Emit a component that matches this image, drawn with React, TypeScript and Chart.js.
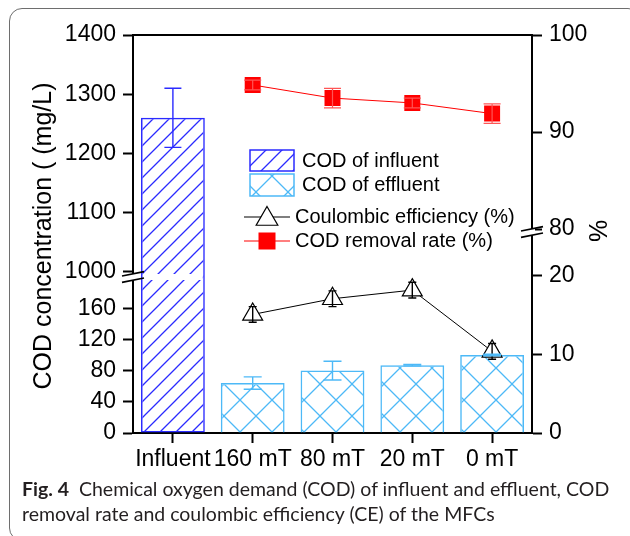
import React, { useEffect, useRef } from 'react';
import { Chart, registerables } from 'chart.js';

Chart.register(...registerables);

// ---------- data ----------
const categories = ['Influent', '160 mT', '80 mT', '20 mT', '0 mT'];
const influentCOD: (number | null)[] = [1260, null, null, null, null];
const influentErr: (number | null)[] = [50, null, null, null, null];
const effluentCOD: (number | null)[] = [null, 64, 80, 87, 100];
const effluentErr: (number | null)[] = [null, 8, 12, 1, 1];
const coulombicEff: (number | null)[] = [null, 15.1, 17.1, 18.2, 10.4];
const coulombicErr: (number | null)[] = [null, 1.0, 1.0, 1.0, 1.0];
const removalRate: (number | null)[] = [null, 94.85, 93.5, 93.0, 91.9];
const removalErr: (number | null)[] = [null, 0.5, 1.0, 0.5, 1.0];

const leftLowerRange = [0, 200];
const leftUpperRange = [991, 1400];
const rightLowerRange = [0, 25.6];
const rightUpperRange = [79.7, 100];
const leftLowerTicks = [0, 40, 80, 120, 160];
const leftUpperTicks = [1000, 1100, 1200, 1300, 1400];
const rightLowerTicks = [0, 10, 20];
const rightUpperTicks = [80, 90, 100];

const leftTitle = 'COD concentration ( (mg/L)';
const rightTitle = '%';
const legendLabels = ['COD of influent', 'COD of effluent', 'Coulombic efficiency (%)', 'COD removal rate (%)'];

// ---------- styles ----------
const FONT = "'Liberation Sans', Arial, sans-serif";
const BLUE = '#2b2bff';
const LIGHT = '#4db9f7';
const RED = '#ff0000';

function makePattern(color: string, cross: boolean, size: number, lw: number) {
  const c = document.createElement('canvas');
  c.width = size;
  c.height = size;
  const g = c.getContext('2d')!;
  g.strokeStyle = color;
  g.lineWidth = lw;
  g.beginPath();
  // "/" lines
  g.moveTo(0, size); g.lineTo(size, 0);
  g.moveTo(-2, 2); g.lineTo(2, -2);
  g.moveTo(size - 2, size + 2); g.lineTo(size + 2, size - 2);
  if (cross) {
    g.moveTo(0, 0); g.lineTo(size, size);
    g.moveTo(size - 2, -2); g.lineTo(size + 2, 2);
    g.moveTo(-2, size - 2); g.lineTo(2, size + 2);
  }
  g.stroke();
  return g.createPattern(c, 'repeat')!;
}

function clampLow(v: number | null, lo: number[]) {
  if (v == null) return null;
  return [lo[0], Math.min(v, lo[1])];
}
function clampHigh(v: number | null, hi: number[]) {
  if (v == null || v <= hi[0]) return null;
  return [hi[0], Math.min(v, hi[1])];
}

const errorBarPlugin = {
  id: 'errorBars',
  afterDatasetsDraw(chart: any) {
    const ctx = chart.ctx;
    chart.data.datasets.forEach((ds: any, di: number) => {
      const eb = ds.errorBars;
      if (!eb) return;
      const meta = chart.getDatasetMeta(di);
      const ys = chart.scales[meta.yAxisID];
      meta.data.forEach((el: any, i: number) => {
        const c = eb.center[i];
        const e = eb.err[i];
        if (c == null || e == null) return;
        if (c < ys.min || c > ys.max) return;
        const x = el.x;
        const yTop = ys.getPixelForValue(c + e);
        const yBot = ys.getPixelForValue(c - e);
        ctx.save();
        ctx.strokeStyle = eb.color;
        ctx.lineWidth = eb.width;
        ctx.beginPath();
        ctx.moveTo(x, yTop); ctx.lineTo(x, yBot);
        ctx.moveTo(x - eb.cap / 2, yTop); ctx.lineTo(x + eb.cap / 2, yTop);
        ctx.moveTo(x - eb.cap / 2, yBot); ctx.lineTo(x + eb.cap / 2, yBot);
        ctx.stroke();
        ctx.restore();
      });
    });
  },
};

function drawTriangle(ctx: CanvasRenderingContext2D, x: number, y: number, r: number) {
  ctx.beginPath();
  for (let k = 0; k < 3; k++) {
    const a = (k * 2 * Math.PI) / 3;
    const px = x + Math.sin(a) * r;
    const py = y - Math.cos(a) * r;
    if (k === 0) ctx.moveTo(px, py); else ctx.lineTo(px, py);
  }
  ctx.closePath();
}

const decorPlugin = {
  id: 'decor',
  afterDraw(chart: any) {
    const ctx: CanvasRenderingContext2D = chart.ctx;
    const ca = chart.chartArea;
    const s = chart.scales;
    ctx.save();
    // top frame line
    ctx.strokeStyle = '#000';
    ctx.lineWidth = 2;
    ctx.beginPath();
    ctx.moveTo(ca.left - 1, ca.top);
    ctx.lineTo(ca.right + 1, ca.top);
    ctx.stroke();

    // axis breaks
    const drawBreak = (x: number, yb: number) => {
      ctx.fillStyle = '#fff';
      ctx.fillRect(x - 3, yb - 3, 6, 6);
      ctx.strokeStyle = '#000';
      ctx.lineWidth = 1.6;
      ctx.beginPath();
      ctx.moveTo(x - 11, yb - 3.2 + 2.2); ctx.lineTo(x + 11, yb - 3.2 - 2.2);
      ctx.moveTo(x - 11, yb + 3.2 + 2.2); ctx.lineTo(x + 11, yb + 3.2 - 2.2);
      ctx.stroke();
    };
    const ybL = s.yLlo.top;
    // white gap in the influent bar
    chart.data.datasets.forEach((ds: any, di: number) => {
      if (ds.breakGap) {
        const meta = chart.getDatasetMeta(di);
        meta.data.forEach((el: any, i: number) => {
          if (ds.data[i] == null) return;
          ctx.fillStyle = '#fff';
          ctx.fillRect(el.x - el.width / 2 + 2, ybL - 3, el.width - 4, 6);
        });
      }
    });
    drawBreak(ca.left, ybL);
    drawBreak(ca.right, s.yRlo.top);

    // axis titles
    ctx.fillStyle = '#000';
    ctx.font = `25px ${FONT}`;
    ctx.textAlign = 'center';
    ctx.textBaseline = 'middle';
    ctx.save();
    ctx.translate(44, (ca.top + ca.bottom) / 2 + 2);
    ctx.rotate(-Math.PI / 2);
    ctx.fillText(leftTitle, 0, 0);
    ctx.restore();
    ctx.save();
    ctx.translate(600, 231);
    ctx.rotate(-Math.PI / 2);
    ctx.fillText(rightTitle, 0, 0);
    ctx.restore();

    // legend
    const lx = ca.left + 117;
    const ly = ca.top;
    const ds = chart.data.datasets;
    ctx.font = `20px ${FONT}`;
    ctx.textAlign = 'left';
    ctx.textBaseline = 'middle';
    // influent swatch
    ctx.fillStyle = ds[3].backgroundColor;
    ctx.fillRect(lx, ly + 115, 44, 21);
    ctx.strokeStyle = ds[3].borderColor;
    ctx.lineWidth = 1.5;
    ctx.strokeRect(lx, ly + 115, 44, 21);
    ctx.fillStyle = '#000';
    ctx.fillText(legendLabels[0], lx + 52, ly + 126);
    // effluent swatch
    ctx.fillStyle = ds[4].backgroundColor;
    ctx.fillRect(lx, ly + 139, 44, 22);
    ctx.strokeStyle = ds[4].borderColor;
    ctx.strokeRect(lx, ly + 139, 44, 22);
    ctx.fillStyle = '#000';
    ctx.fillText(legendLabels[1], lx + 52, ly + 150);
    // CE
    ctx.strokeStyle = '#000';
    ctx.lineWidth = 1.2;
    ctx.beginPath();
    ctx.moveTo(lx - 6, ly + 182); ctx.lineTo(lx + 40, ly + 182);
    ctx.stroke();
    ctx.fillStyle = '#fff';
    drawTriangle(ctx, lx + 17, ly + 184, 12.5);
    ctx.fill();
    ctx.stroke();
    ctx.fillStyle = '#000';
    ctx.fillText(legendLabels[2], lx + 45, ly + 182);
    // removal
    ctx.strokeStyle = RED;
    ctx.beginPath();
    ctx.moveTo(lx - 6, ly + 206); ctx.lineTo(lx + 40, ly + 206);
    ctx.stroke();
    ctx.fillStyle = RED;
    ctx.fillRect(lx + 8.5, ly + 197.5, 17, 17);
    ctx.fillStyle = '#000';
    ctx.fillText(legendLabels[3], lx + 45, ly + 206);
    ctx.restore();
  },
};

function yScale(range: number[], ticks: number[], stack: string, weight: number, order: number, position: string) {
  return {
    type: 'linear',
    position,
    stack,
    stackWeight: weight,
    weight: order,
    min: range[0],
    max: range[1],
    offset: false,
    afterBuildTicks: (sc: any) => {
      sc.ticks = ticks.map((v) => ({ value: v }));
    },
    afterFit: (sc: any) => {
      sc.width = position === 'left' ? 133 : 98;
    },
    ticks: {
      autoSkip: false,
      padding: 7,
      color: '#000',
      font: { family: FONT, size: 23 },
      callback: (v: any) => String(v),
    },
    grid: {
      drawOnChartArea: false,
      drawTicks: true,
      tickLength: 10,
      tickWidth: 2,
      tickColor: '#000',
    },
    border: { display: true, color: '#000', width: 2 },
  };
}

export default function App() {
  const ref = useRef<HTMLCanvasElement>(null);
  useEffect(() => {
    if (!ref.current) return;
    const infPat = makePattern(BLUE, false, 16, 1.3);
    const effPat = makePattern(LIGHT, true, 32, 1.3);
    const chart = new Chart(ref.current, {
      type: 'bar',
      data: {
        labels: categories,
        datasets: [
          {
            type: 'line',
            label: legendLabels[2],
            data: coulombicEff,
            yAxisID: 'yRlo',
            borderColor: '#000',
            borderWidth: 1,
            pointStyle: 'triangle',
            pointRadius: 11.5,
            pointBorderColor: '#000',
            pointBackgroundColor: '#fff',
            pointBorderWidth: 1.2,
            tension: 0,
            errorBars: { center: coulombicEff, err: coulombicErr, color: '#000', width: 1.4, cap: 8 },
          } as any,
          {
            type: 'line',
            label: legendLabels[3],
            data: removalRate,
            yAxisID: 'yRup',
            borderColor: RED,
            borderWidth: 1,
            pointStyle: 'rect',
            pointRadius: 11.3,
            pointBorderColor: RED,
            pointBackgroundColor: RED,
            pointBorderWidth: 0,
            tension: 0,
            errorBars: { center: removalRate, err: removalErr, color: '#ff5555', width: 1.2, cap: 17 },
          } as any,
          {
            type: 'bar',
            label: legendLabels[0],
            data: influentCOD.map((v) => clampLow(v, leftLowerRange)),
            yAxisID: 'yLlo',
            backgroundColor: infPat,
            borderColor: BLUE,
            borderWidth: 1.5,
            borderSkipped: 'top',
            grouped: false,
            breakGap: true,
          } as any,
          {
            type: 'bar',
            label: legendLabels[0],
            data: influentCOD.map((v) => clampHigh(v, leftUpperRange)),
            yAxisID: 'yLup',
            backgroundColor: infPat,
            borderColor: BLUE,
            borderWidth: 1.5,
            borderSkipped: 'bottom',
            grouped: false,
            errorBars: { center: influentCOD, err: influentErr, color: BLUE, width: 1.4, cap: 17 },
          } as any,
          {
            type: 'bar',
            label: legendLabels[1],
            data: effluentCOD,
            yAxisID: 'yLlo',
            backgroundColor: effPat,
            borderColor: LIGHT,
            borderWidth: 1.5,
            borderSkipped: 'bottom',
            grouped: false,
            errorBars: { center: effluentCOD, err: effluentErr, color: LIGHT, width: 1.4, cap: 18 },
          } as any,
        ],
      },
      options: {
        responsive: false,
        animation: false,
        events: [],
        layout: { padding: { left: 0, right: 0, top: 35, bottom: 0 } },
        datasets: { bar: { categoryPercentage: 0.8, barPercentage: 1 } },
        plugins: { legend: { display: false }, tooltip: { enabled: false }, title: { display: false } },
        scales: {
          x: {
            type: 'category',
            offset: true,
            afterFit: (sc: any) => {
              sc.height = 103;
            },
            ticks: {
              padding: 3,
              color: '#000',
              font: { family: FONT, size: 23 },
              maxRotation: 0,
              autoSkip: false,
            },
            grid: {
              offset: false,
              drawOnChartArea: false,
              drawTicks: true,
              tickLength: 10,
              tickWidth: 2,
              tickColor: '#000',
            },
            border: { display: true, color: '#000', width: 2 },
          },
          yLup: yScale(leftUpperRange, leftUpperTicks, 'leftStack', 242, 2, 'left'),
          yLlo: yScale(leftLowerRange, leftLowerTicks, 'leftStack', 156, 1, 'left'),
          yRup: yScale(rightUpperRange, rightUpperTicks, 'rightStack', 197, 1, 'right'),
          yRlo: yScale(rightLowerRange, rightLowerTicks, 'rightStack', 201, 2, 'right'),
        } as any,
      },
      plugins: [errorBarPlugin, decorPlugin],
    } as any);
    return () => chart.destroy();
  }, []);

  return (
    <div style={{ position: 'fixed', left: 0, top: 0, width: 630, height: 536, overflow: 'hidden', background: '#fff' }}>
      <div
        style={{
          position: 'absolute',
          left: 9,
          top: 8,
          width: 632,
          height: 533,
          border: '1.5px solid #6e6e6e',
          borderRadius: 13,
          boxSizing: 'border-box',
        }}
      />
      <canvas ref={ref} width={630} height={536} style={{ position: 'absolute', left: 0, top: 0 }} />
      <div
        style={{
          position: 'absolute',
          left: 22,
          top: 476,
          fontFamily: "Lato, 'Noto Sans', sans-serif",
          fontSize: 19.5,
          lineHeight: '25px',
          color: '#231f20',
          whiteSpace: 'nowrap',
        }}
      >
        <b>Fig. 4</b>&nbsp; Chemical oxygen demand (COD) of influent and effluent, COD
        <br />
        removal rate and coulombic efficiency (CE) of the MFCs
      </div>
    </div>
  );
}
